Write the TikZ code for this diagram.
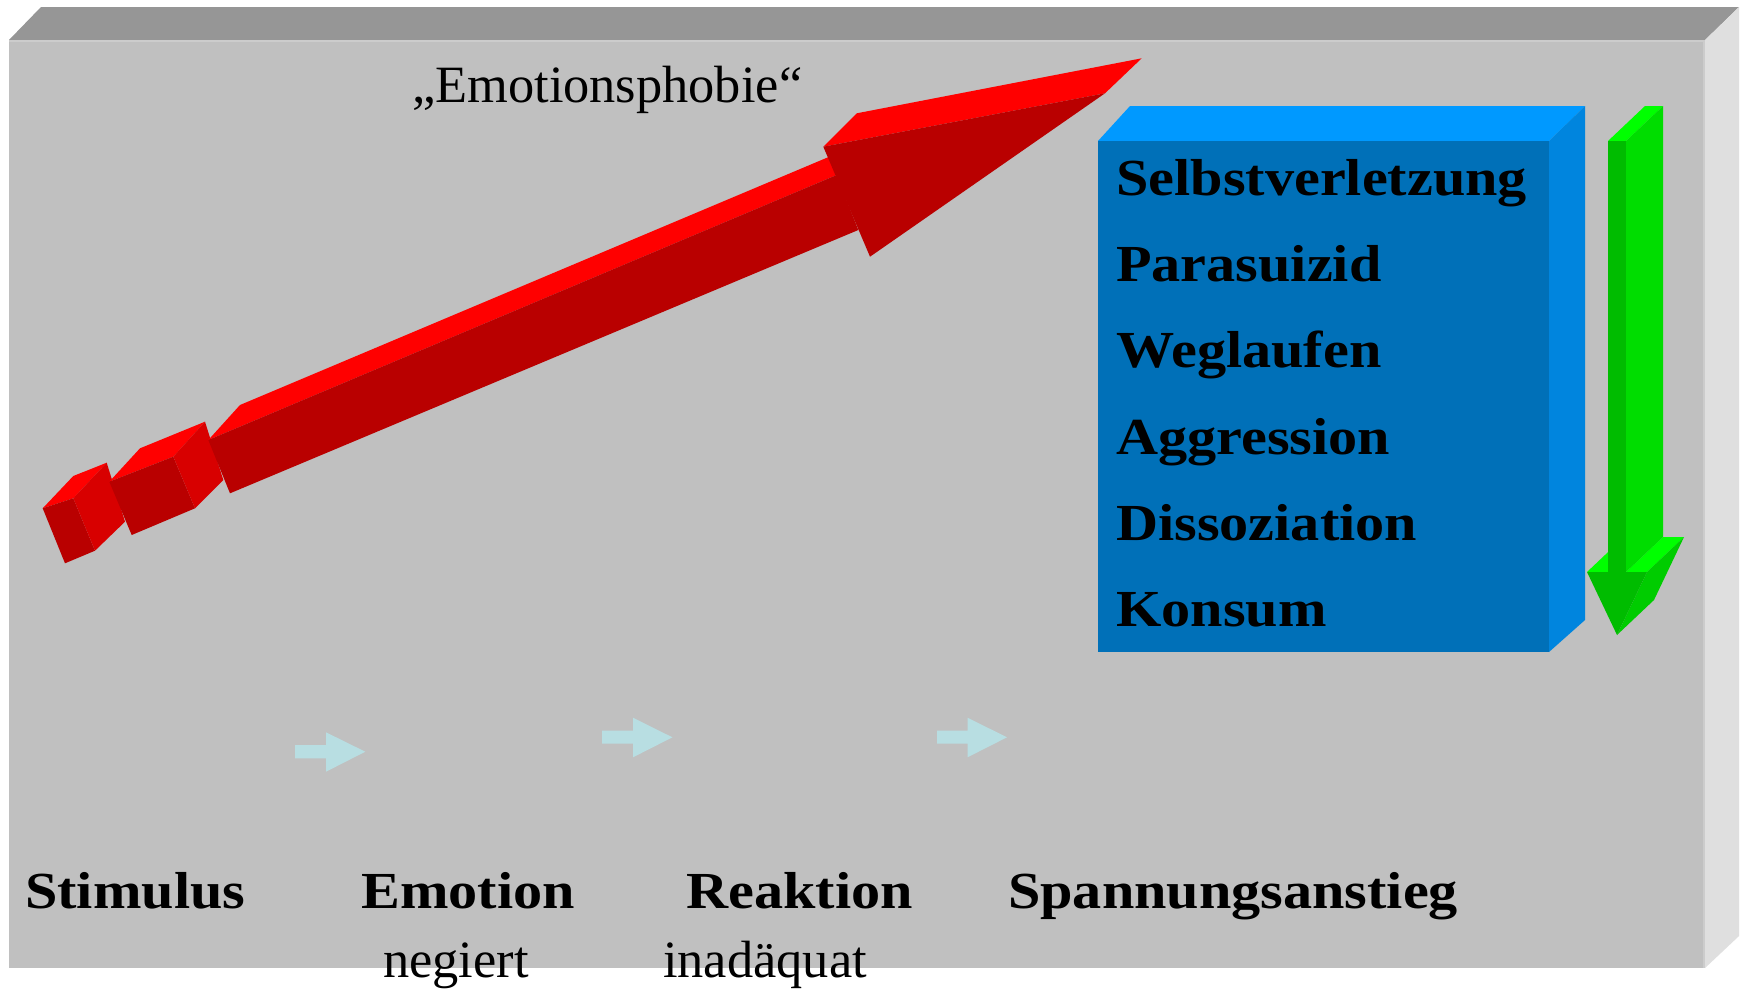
\documentclass[tikz,border=0pt]{standalone}
\usepackage{fontspec}
\setmainfont{Liberation Serif}
\newfontfamily\boldlabel[FakeStretch=1.12]{Liberation Serif}
\definecolor{gtop}{RGB}{150,150,150}
\definecolor{gfront}{RGB}{192,192,192}
\definecolor{gside}{RGB}{223,223,223}
\definecolor{rtop}{RGB}{255,0,0}
\definecolor{rfront}{RGB}{185,0,0}
\definecolor{rside}{RGB}{216,0,0}
\definecolor{btop}{RGB}{0,153,255}
\definecolor{bfront}{RGB}{0,112,184}
\definecolor{bside}{RGB}{0,133,222}
\definecolor{ntop}{RGB}{0,255,0}
\definecolor{nfront}{RGB}{0,188,0}
\definecolor{nside}{RGB}{0,221,0}
\definecolor{nhead}{RGB}{0,204,0}
\definecolor{cyanarrow}{RGB}{184,222,226}
\begin{document}
\begin{tikzpicture}[x=1pt,y=-1pt,
  lbl/.style={anchor=base west, inner sep=0pt, text=black,
    font=\boldlabel\bfseries\fontsize{52}{60}\selectfont},
  sublbl/.style={anchor=base west, inner sep=0pt, text=black,
    font=\fontsize{52.4}{60}\selectfont},
  smallarrow/.style={fill=cyanarrow}]
\useasboundingbox (0,0) rectangle (1740,989);
\fill[white] (0,0) rectangle (1740,989);
% main grey slab
\fill[gtop] (9,40) -- (41,7) -- (1739,7) -- (1705,40) -- cycle;
\fill[gside] (1705,40) -- (1739,7) -- (1739,936) -- (1705,968) -- cycle;
\fill[gfront] (9,40) rectangle (1705,968);
\draw[line width=2pt, color=gray!40] (9,41) -- (1704,41) -- (1704,968);
% red 3D arrow: cube 1
\fill[rtop] (42.7,508.3) -- (73.3,476) -- (106.7,462.7) -- (73.3,498.3) -- cycle;
\fill[rfront] (42.7,508.3) -- (73.3,498.3) -- (95,550.7) -- (65,563.3) -- cycle;
\fill[rside] (73.3,498.3) -- (106.7,462.7) -- (125,521.7) -- (95,550.7) -- cycle;
% cube 2
\fill[rtop] (109.3,481.7) -- (140,448.3) -- (205,421.7) -- (173.3,456.7) -- cycle;
\fill[rfront] (109.3,481.7) -- (173.3,456.7) -- (195,508.3) -- (131.7,535) -- cycle;
\fill[rside] (173.3,456.7) -- (205,421.7) -- (223.3,480) -- (195,508.3) -- cycle;
% shaft
\fill[rtop] (208.3,440) -- (240,405) -- (869,140) -- (836.7,175) -- cycle;
\fill[rfront] (208.3,440) -- (836.7,175) -- (858.3,230) -- (230,493.3) -- cycle;
% head
\fill[rtop] (823.3,146.7) -- (856.7,113.3) -- (1141.7,58.3) -- (1105,93.3) -- cycle;
\fill[rfront] (823.3,146.7) -- (1105,93.3) -- (870,256.7) -- cycle;
% blue box
\fill[btop] (1098,141) -- (1130,106) -- (1585,106) -- (1549,141) -- cycle;
\fill[bside] (1549,141) -- (1585,106) -- (1585,620) -- (1549,652) -- cycle;
\fill[bfront] (1098,141) rectangle (1549,652);
% green 3D arrow
\fill[ntop] (1587,572) -- (1608,572) -- (1645,537) -- (1624,537) -- cycle;
\fill[ntop] (1626,572) -- (1647,572) -- (1684,537) -- (1663,537) -- cycle;
\fill[ntop] (1608,141) -- (1626,141) -- (1663,106) -- (1645,106) -- cycle;
\fill[nside] (1626,141) -- (1663,106) -- (1663,537) -- (1626,572) -- cycle;
\fill[nfront] (1608,141) rectangle (1626,572);
\fill[nhead] (1647,572) -- (1617,635) -- (1654,600) -- (1684,537) -- cycle;
\fill[nfront] (1587,572) -- (1647,572) -- (1617,635) -- cycle;
% small cyan arrows
\fill[smallarrow] (295,745) -- (326,745) -- (326,732.3) -- (365.3,751.7) -- (326,771.7) -- (326,758.3) -- (295,758.3) -- cycle;
\fill[smallarrow] (602,730.7) -- (633,730.7) -- (633,717.7) -- (672.4,737.3) -- (633,757.3) -- (633,743.7) -- (602,743.7) -- cycle;
\fill[smallarrow] (937,730.7) -- (967.5,730.7) -- (967.5,717.7) -- (1007,737.3) -- (967.5,757.3) -- (967.5,743.7) -- (937,743.7) -- cycle;
% texts
\node[sublbl] (phobie) at (412,102) {„Emotionsphobie“};
\node[lbl] (t1) at (1116,195) {Selbstverletzung};
\node[lbl] (t2) at (1116,281.5) {Parasuizid};
\node[lbl] (t3) at (1116,367.5) {Weglaufen};
\node[lbl] (t4) at (1116,454) {Aggression};
\node[lbl] (t5) at (1116,540) {Dissoziation};
\node[lbl] (t6) at (1116,626.5) {Konsum};
\node[lbl] (stim) at (25,908) {Stimulus};
\node[lbl] (emo) at (361,908) {Emotion};
\node[lbl] (reak) at (686,908) {Reaktion};
\node[lbl] (span) at (1008,908) {Spannungsanstieg};
\node[sublbl] (neg) at (383,977) {negiert};
\node[sublbl] (inad) at (663,977) {inadäquat};
\end{tikzpicture}
\end{document}
